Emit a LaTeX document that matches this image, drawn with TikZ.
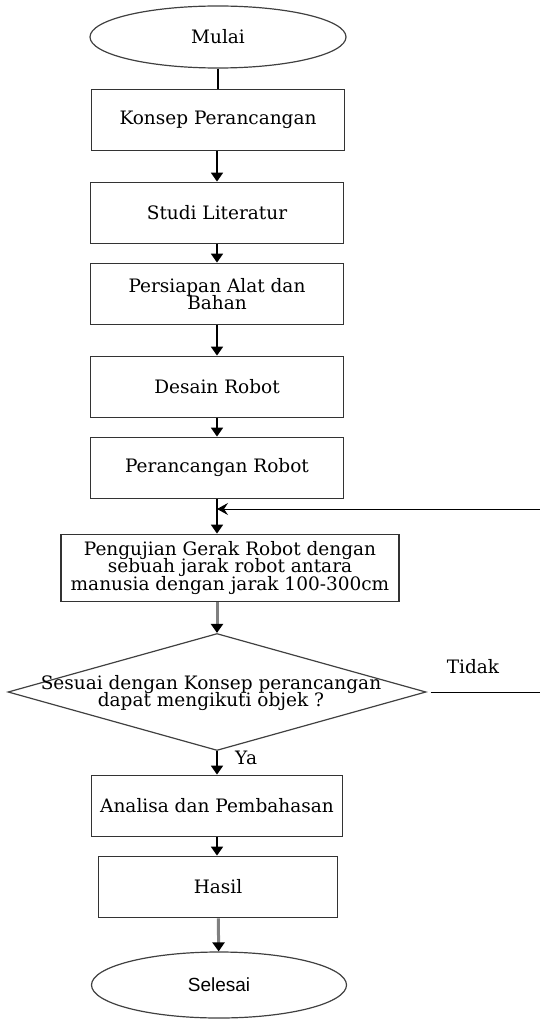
\documentclass[tikz,border=0pt]{standalone}
\usepackage{fontspec}
\setmainfont{DejaVu Serif}
\newfontfamily\arialfont{Liberation Sans}
\usetikzlibrary{shapes,arrows.meta,positioning}

\begin{document}
\begin{tikzpicture}[x=1pt,y=-1pt,font={\fontsize{18.5}{17.5}\selectfont\setlength{\lineskiplimit}{-20pt}}]
            \tikzstyle{terminal} = [ellipse, draw=black!75, line width=1.2pt, minimum width=256pt, minimum height=62pt, inner sep=0pt]
            \tikzstyle{process} = [rectangle, draw=black!80, line width=1.8pt, minimum width=253pt, minimum height=61pt, align=center, inner sep=0pt]
            \tikzstyle{decision} = [diamond, draw=black!75, line width=1.2pt, minimum width=418pt, minimum height=117pt, inner sep=0pt]
            \tikzstyle{arrow} = [line width=1.8pt, -{Triangle[width=12pt,length=9pt]}]
            \tikzstyle{grayarrow} = [line width=3pt, draw=black!50, -{Triangle[width=12pt,length=9pt,color=black]}]

            \useasboundingbox (0,0) rectangle (540,1019);

            \node [terminal] (mulai) at (218,37) {Mulai};
            \node [process] (konsep) at (218,120) {Konsep Perancangan};
            \node [process] (studi) at (217,213) {Studi Literatur};
            \node [process] (persiapan) at (217,294) {Persiapan Alat dan\\Bahan};
            \node [process] (desain) at (217,387) {Desain Robot};
            \node [process] (rancang) at (217,468) {Perancangan Robot};
            \node [process, minimum width=338pt, minimum height=67pt] (uji) at (230,568) {Pengujian Gerak Robot dengan\\sebuah jarak robot antara\\manusia dengan jarak 100-300cm};
            \node [decision] (cek) at (217,692) {};
            \node [align=center, inner sep=0pt] (tanya) at (211,693) {Sesuai dengan Konsep perancangan\\dapat mengikuti objek ?};
            \node [process, minimum width=251pt] (analisa) at (217,806) {Analisa dan Pembahasan};
            \node [process, minimum width=239pt] (hasil) at (218,887) {Hasil};
            \node [terminal, minimum width=255pt, minimum height=66pt, font=\arialfont\fontsize{19}{19}\selectfont] (selesai) at (219,985) {Selesai};

            \coordinate (gabung) at (217,509);
            \coordinate (pojok) at (541,692);

            \draw [line width=1.8pt] (mulai) -- (konsep);
            \draw [arrow] (konsep.south -| studi) -- (studi);
            \draw [arrow] (studi) -- (persiapan);
            \draw [arrow] (persiapan) -- (desain);
            \draw [arrow] (desain) -- (rancang);
            \draw [arrow] (rancang) -- (rancang.south |- uji.north);
            \draw [grayarrow] (uji.south -| cek) -- (cek);
            \draw [arrow] (cek) -- (analisa) node[pos=0.3, right=14pt] {Ya};
            \draw [arrow] (analisa.south) -- (analisa.south |- hasil.north);
            \draw [grayarrow] (hasil) -- (selesai);
            \draw [line width=1pt, -{Stealth[width=12pt,length=11pt,inset=4pt]}] (cek.east) ++(4,0) -- (pojok) |- (gabung);
            \node at (473,667) {Tidak};
        \end{tikzpicture}
\end{document}
